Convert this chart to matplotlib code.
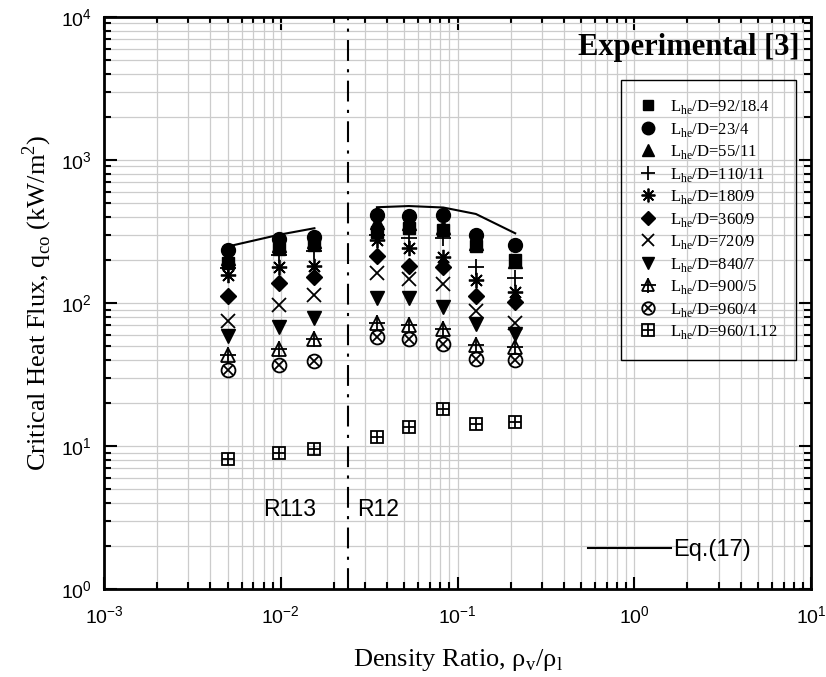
import matplotlib
matplotlib.use('Agg')
import matplotlib.pyplot as plt
from matplotlib.lines import Line2D

plt.rcParams['font.family'] = 'Liberation Sans'
plt.rcParams['mathtext.fontset'] = 'custom'
plt.rcParams['mathtext.rm'] = 'Liberation Serif'
plt.rcParams['axes.unicode_minus'] = False

# density ratio columns: R113 (left) and R12 (right)
density = [0.005, 0.0098, 0.0155, 0.035, 0.053, 0.083, 0.127, 0.212]

labels = ['92/18.4', '23/4', '55/11', '110/11', '180/9', '360/9',
          '720/9', '840/7', '900/5', '960/4', '960/1.12']

q_92_18 = [190, 240, 255, 315, 334, 325, 250, 200]
q_23_4 = [235, 280, 290, 412, 408, 412, 300, 255]
q_55_11 = [205, 255, 270, 370, 363, 340, 262, 195]
q_110_11 = [175, 215, 230, 300, 283, 283, 179, 149]
q_180_9 = [157, 177, 180, 276, 241, 211, 145, 120]
q_360_9 = [111, 138, 151, 213, 181, 178, 112, 102]
q_720_9 = [75, 96, 114, 161, 146, 136, 88, 72]
q_840_7 = [59, 68, 78, 108, 108, 93, 71, 61]
q_900_5 = [43, 47.5, 56, 72, 70, 66, 51, 49]
q_960_4 = [34, 37, 39, 57.5, 55.7, 51.7, 40.4, 40]
q_960_112 = [8.1, 8.9, 9.6, 11.5, 13.5, 18.1, 14.3, 14.8]

# Eq.(17) prediction
eq_x_r113 = [0.005, 0.0098, 0.0155]
eq_q_r113 = [248, 300, 333]
eq_x_r12 = [0.035, 0.053, 0.083, 0.127, 0.212]
eq_q_r12 = [467, 476, 465, 419, 307]

fig = plt.figure(figsize=(8.26, 6.77), dpi=100)
ax = fig.add_axes([0.1259, 0.13, 0.856, 0.845])

ms = 9
mew = 1.3
styles = [
    [dict(marker='s', color='k', ms=ms - 1)],
    [dict(marker='o', color='k', ms=ms + 1)],
    [dict(marker='^', color='k', ms=ms + 1)],
    [dict(marker='+', color='k', ms=ms + 2, mew=mew)],
    [dict(marker=(8, 2, 0), color='k', ms=ms + 2, mew=mew)],
    [dict(marker='D', color='k', ms=ms - 1)],
    [dict(marker='x', color='k', ms=ms + 1, mew=mew)],
    [dict(marker='v', color='k', ms=ms + 1)],
    [dict(marker='^', color='k', mfc='none', ms=ms + 1, mew=mew),
     dict(marker='+', color='k', ms=ms + 3, mew=mew)],
    [dict(marker='o', color='k', mfc='none', ms=ms + 1, mew=mew),
     dict(marker='x', color='k', ms=ms - 2, mew=mew)],
    [dict(marker='s', color='k', mfc='none', ms=ms, mew=mew),
     dict(marker='+', color='k', ms=ms, mew=mew)],
]
series = [q_92_18, q_23_4, q_55_11, q_110_11, q_180_9, q_360_9,
          q_720_9, q_840_7, q_900_5, q_960_4, q_960_112]

handles = []
for vals, st in zip(series, styles):
    parts = []
    for s in st:
        ax.plot(density, vals, ls='none', zorder=3, **s)
        leg = dict(s)
        leg['ms'] = s['ms'] * 0.9
        parts.append(Line2D([], [], ls='none', **leg))
    handles.append(tuple(parts))

eq_line, = ax.plot(eq_x_r113, eq_q_r113, color='k', lw=1.5, zorder=2)
ax.plot(eq_x_r12, eq_q_r12, color='k', lw=1.5, zorder=2)

ax.axvline(0.024, color='k', lw=1.5, ls=(0, (10, 4, 1.5, 4)), zorder=2)

ax.set_xscale('log')
ax.set_yscale('log')
ax.set_xlim(1e-3, 10)
ax.set_ylim(1, 1e4)

ax.grid(True, which='both', color='#cccccc', lw=0.9)
ax.set_axisbelow(True)
ax.tick_params(which='both', direction='in', top=True, right=True,
               labelsize=14, width=1.5)
ax.tick_params(which='major', length=9)
ax.tick_params(axis='x', which='major', pad=12)
ax.tick_params(axis='y', which='major', pad=9)
ax.tick_params(which='minor', length=5)
for sp in ax.spines.values():
    sp.set_linewidth(2)

ax.set_xlabel(r'Density Ratio, ρ$_\mathregular{v}$/ρ$_\mathregular{l}$',
              family='Liberation Serif', fontsize=19, labelpad=14)
ax.set_ylabel(r'Critical Heat Flux, q$_\mathregular{co}$ (kW/m$^\mathregular{2}$)',
              family='Liberation Serif', fontsize=19, labelpad=5)

ax.text(0.984, 0.946, 'Experimental [3]', transform=ax.transAxes,
        ha='right', va='center', family='Liberation Serif',
        fontweight='bold', fontsize=22)

ax.text(0.00794, 3.62, 'R113', ha='left', va='center', fontsize=16.5)
ax.text(0.027, 3.62, 'R12', ha='left', va='center', fontsize=16.5)

leg_labels = [r'L$_\mathregular{he}$/D=' + l for l in labels]
leg1 = ax.legend(handles, leg_labels, loc='upper left',
                 bbox_to_anchor=(0.731, 0.890),
                 prop={'family': 'Liberation Serif', 'size': 12},
                 frameon=True, fancybox=False, framealpha=1,
                 facecolor='none', edgecolor='k', labelspacing=0.27,
                 handlelength=1.0, handletextpad=0.85, borderpad=1.1,
                 borderaxespad=0)
leg1.get_frame().set_linewidth(1)
leg1.set_zorder(4)
ax.add_artist(leg1)

ax.legend([eq_line], ['Eq.(17)'], loc='center left',
          bbox_to_anchor=(0.671, 0.068), frameon=False, fontsize=17,
          handlelength=3.5, handletextpad=0.1, borderaxespad=0)

fig.savefig('out.png', dpi=100)
